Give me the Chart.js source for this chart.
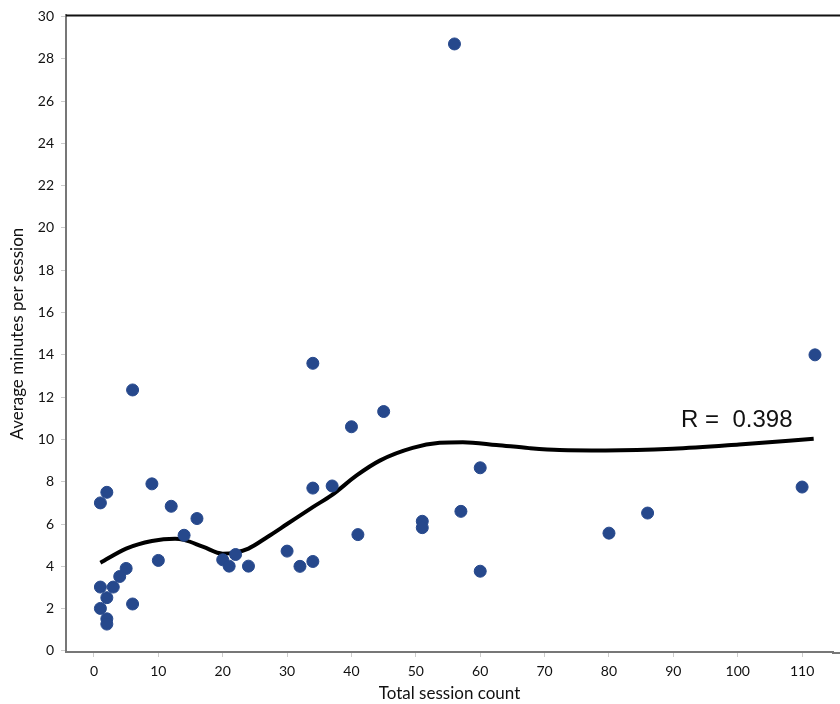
<!DOCTYPE html>
<html>
<head>
<meta charset="utf-8">
<script src="https://cdn.jsdelivr.net/npm/chart.js@4/dist/chart.umd.min.js"></script>
<style>
  html,body{margin:0;padding:0;background:#fff;}
  #wrap{width:840px;height:704px;}
</style>
</head>
<body>
<div id="wrap"><canvas id="c" width="840" height="704"></canvas></div>
<script>
// ----- data -----
const sessionCount = [1,2,6,9,12,16,14,10,5,4,20,21,22,24,30,32,34,34,34,37,40,41,45,51,51,57,60,60,56,1,3,2,1,2,2,6,112,110,86,80];
const avgMinutes   = [7.0,7.5,12.34,7.9,6.84,6.26,5.47,4.28,3.9,3.52,4.31,4.01,4.56,4.01,4.72,4.0,4.23,7.7,13.6,7.8,10.6,5.5,11.32,6.13,5.83,6.6,8.66,3.77,28.7,3.02,3.02,2.52,2.01,1.52,1.27,2.22,14.0,7.75,6.52,5.57];

// smoothed fit line
const fitX = [1,5,9,12.6,14,17,20,22,24,27,30,34,37,40.8,44.4,49.5,53.7,57.3,62.5,67.6,72.3,79.5,89.9,100.2,111.8];
const fitY = [4.17,4.84,5.2,5.31,5.25,4.92,4.6,4.66,4.84,5.4,6.0,6.8,7.38,8.3,9.0,9.6,9.84,9.87,9.74,9.59,9.5,9.48,9.56,9.76,10.03];

const xTicks = [0,10,20,30,40,50,60,70,80,90,100,110];
const yTicks = [0,2,4,6,8,10,12,14,16,18,20,22,24,26,28,30];
const rLabel = "R =  0.398";
const rPos = {x:91.2, y:10.57};

const FONT = "Lato, 'Open Sans', sans-serif";

const pts = sessionCount.map((x,i)=>({x, y:avgMinutes[i]}));
const fit = fitX.map((x,i)=>({x, y:fitY[i]}));

// top frame line, axis run-out to the right edge, R annotation
const extras = {
  id:"extras",
  afterDatasetsDraw(chart){
    const {ctx, chartArea:a, scales:{x,y}} = chart;
    ctx.save();
    ctx.strokeStyle = "#111";
    ctx.lineWidth = 2;
    ctx.beginPath();
    ctx.moveTo(a.left, a.top);
    ctx.lineTo(chart.width, a.top);
    ctx.stroke();
    ctx.strokeStyle = "#777";
    ctx.beginPath();
    ctx.moveTo(a.right - 1, a.bottom + 1);
    ctx.lineTo(chart.width, a.bottom + 1);
    ctx.stroke();
    ctx.fillStyle = "#111";
    ctx.font = "24px 'Liberation Sans', Arial, sans-serif";
    ctx.textBaseline = "alphabetic";
    ctx.fillText(rLabel, x.getPixelForValue(rPos.x), y.getPixelForValue(rPos.y));
    ctx.restore();
  }
};

new Chart(document.getElementById("c"), {
  type: "scatter",
  data: {
    datasets: [
      { label:"fit", data: fit, showLine:true, borderColor:"#000", borderWidth:4,
        pointRadius:0, cubicInterpolationMode:"monotone", order:2 },
      { label:"users", data: pts, backgroundColor:"#26488c", borderColor:"#26488c",
        pointRadius:6, pointHoverRadius:6, order:1 }
    ]
  },
  options: {
    responsive:false,
    animation:false,
    devicePixelRatio:1,
    layout:{ padding:{ top:14, right:0, left:0, bottom:0 } },
    plugins:{ legend:{display:false}, tooltip:{enabled:false} },
    scales:{
      x:{
        type:"linear", min:-4.344, max:114.8,
        afterBuildTicks:(s)=>{ s.ticks = xTicks.map(v=>({value:v})); },
        afterFit:(s)=>{ s.height = 52; },
        grid:{ drawOnChartArea:false, drawTicks:true, tickLength:5, color:"#ccc" },
        border:{ color:"#777", width:2 },
        ticks:{ color:"#111", font:{family:FONT, size:14}, padding:6, maxRotation:0, autoSkip:false },
        title:{ display:true, text:"Total session count", color:"#111",
                font:{family:FONT, size:17}, padding:{top:0, bottom:0} }
      },
      y:{
        type:"linear", min:-0.05, max:30.05,
        afterBuildTicks:(s)=>{ s.ticks = yTicks.map(v=>({value:v})); },
        afterFit:(s)=>{ s.width = 66; },
        grid:{ drawOnChartArea:false, drawTicks:true, tickLength:5, color:"#ccc" },
        border:{ color:"#777", width:2 },
        ticks:{ color:"#111", font:{family:FONT, size:14}, padding:7, autoSkip:false },
        title:{ display:true, text:"Average minutes per session", color:"#111",
                font:{family:FONT, size:17}, padding:{top:7, bottom:0} }
      }
    }
  },
  plugins:[extras]
});
</script>
</body>
</html>
